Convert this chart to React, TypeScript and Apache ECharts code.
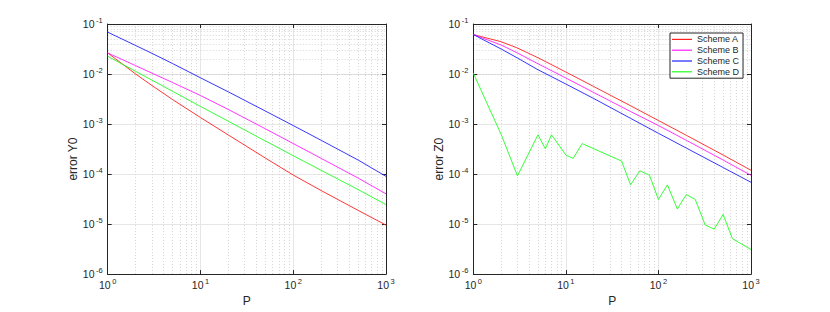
import React, { useEffect, useRef } from "react";
import * as echarts from "echarts";

const P = [1, 2, 3, 5, 10, 20, 50, 100, 200, 500, 1000];

const leftA = [0.0264, 0.01, 5.89e-3, 3.09e-3, 1.35e-3, 6.03e-4, 2.09e-4, 9.55e-5, 4.68e-5, 1.88e-5, 9.55e-6];
const leftB = [0.0264, 0.01469, 0.0104, 6.76e-3, 3.72e-3, 1.95e-3, 8.04e-4, 4.07e-4, 2.06e-4, 8.32e-5, 4.03e-5];
const leftC = [0.0686, 0.0372, 0.0259, 0.0162, 8.41e-3, 4.39e-3, 1.82e-3, 9.33e-4, 4.73e-4, 1.91e-4, 9.0e-5];
const leftD = [0.02265, 0.0113, 7.55e-3, 4.52e-3, 2.25e-3, 1.135e-3, 4.59e-4, 2.33e-4, 1.186e-4, 4.9e-5, 2.45e-5];

const rightA = [0.0615, 0.0442, 0.0331, 0.02113, 0.01096, 5.62e-3, 2.32e-3, 1.175e-3, 5.96e-4, 2.4e-4, 1.19e-4];
const rightB = [0.0615, 0.038, 0.0263, 0.01603, 8.32e-3, 4.27e-3, 1.78e-3, 9.33e-4, 4.73e-4, 1.905e-4, 9.44e-5];
const rightC = [0.0615, 0.0316, 0.0209, 0.01216, 6.31e-3, 3.24e-3, 1.3e-3, 6.53e-4, 3.31e-4, 1.35e-4, 6.84e-5];

const PD = [1, 2, 3, 5, 6, 7, 10, 12, 15, 40, 50, 63, 80, 100, 125, 160, 200, 250, 320, 400, 500, 630, 1000];
const rightD = [0.0104, 6.2e-4, 9.2e-5, 6.1e-4, 3.2e-4, 6.1e-4, 2.4e-4, 2.06e-4, 4.06e-4, 1.82e-4, 6.07e-5, 1.16e-4, 9.5e-5, 3.1e-5, 6.07e-5, 2.0e-5, 3.9e-5, 3.1e-5, 9.6e-6, 7.9e-6, 1.56e-5, 5.1e-6, 3.1e-6];

const names = ["Scheme A", "Scheme B", "Scheme C", "Scheme D"];
const colors = ["#ff2020", "#ff20ff", "#2020ff", "#20ff20"];

const xDecades = [1, 10, 100];
const yDecades = [1e-6, 1e-5, 1e-4, 1e-3, 1e-2];
const mult = [2, 3, 4, 5, 6, 7, 8, 9];

const FONT = "Liberation Sans, Arial, Helvetica, sans-serif";
const AX = "#262626";

const pow = (v: number) => {
  const e = Math.round(Math.log10(v));
  return `{b|10}{s|${e}}`;
};
const rich = {
  b: { fontSize: 10.5, fontFamily: FONT, color: AX, lineHeight: 15, verticalAlign: "middle" },
  s: { fontSize: 7.5, fontFamily: FONT, color: AX, lineHeight: 15, verticalAlign: "top", padding: [0, 0, 0, 1.5] },
};

export default function App() {
  const ref = useRef<HTMLDivElement>(null);
  useEffect(() => {
    const chart = echarts.init(ref.current!, undefined, { renderer: "svg" });
    const grids = [
      { left: 107.7, top: 24, width: 278.3, height: 254 },
      { left: 473.3, top: 24, width: 277.7, height: 254 },
    ];
    const xAxis: any[] = [];
    const yAxis: any[] = [];
    grids.forEach((g, i) => {
      xAxis.push({
        type: "log", logBase: 10, min: 1, max: 1000, gridIndex: i, position: "bottom",
        name: "P", nameLocation: "middle", nameGap: 18,
        nameTextStyle: { fontSize: 12, fontFamily: FONT, color: AX },
        axisLine: { show: true, lineStyle: { color: AX, width: 1 } },
        axisTick: { show: true, inside: true, length: 4, lineStyle: { color: AX } },
        axisLabel: { formatter: pow, rich, margin: 3, color: AX },
        splitLine: { show: true, lineStyle: { color: "#e6e6e6", width: 1 } },
      });
      xAxis.push({
        type: "log", logBase: 10, min: 1, max: 1000, gridIndex: i, position: "top",
        axisLine: { show: true, lineStyle: { color: AX, width: 1 } },
        axisTick: { show: true, inside: true, length: 4, lineStyle: { color: AX } },
        axisLabel: { show: false }, splitLine: { show: false },
      });
      yAxis.push({
        type: "log", logBase: 10, min: 1e-6, max: 0.1, gridIndex: i, position: "left",
        name: i === 0 ? "error Y0" : "error Z0", nameLocation: "middle", nameGap: 22, nameRotate: 90,
        nameTextStyle: { fontSize: 12, fontFamily: FONT, color: AX, padding: [0, 20, 0, 0] },
        axisLine: { show: true, lineStyle: { color: AX, width: 1 } },
        axisTick: { show: true, inside: true, length: 4, lineStyle: { color: AX } },
        axisLabel: { formatter: pow, rich, margin: 5, color: AX },
        splitLine: { show: true, lineStyle: { color: "#e6e6e6", width: 1 } },
      });
      yAxis.push({
        type: "log", logBase: 10, min: 1e-6, max: 0.1, gridIndex: i, position: "right",
        axisLine: { show: true, lineStyle: { color: AX, width: 1 } },
        axisTick: { show: true, inside: true, length: 4, lineStyle: { color: AX } },
        axisLabel: { show: false }, splitLine: { show: false },
      });
    });

    const minorData: any[] = [];
    xDecades.forEach((d) => mult.forEach((m) => minorData.push({ xAxis: d * m })));
    yDecades.forEach((d) => mult.forEach((m) => minorData.push({ yAxis: d * m })));

    const series: any[] = [];
    [0, 1].forEach((i) => {
      series.push({
        type: "line", xAxisIndex: i * 2, yAxisIndex: i * 2, data: [], silent: true, z: 0,
        markLine: {
          silent: true, symbol: ["none", "none"], label: { show: false }, z: 0,
          lineStyle: { type: [1, 2], color: "#d4d4d4", width: 1 },
          data: minorData, animation: false,
        },
      });
    });
    const mk = (name: string, color: string, xs: number[], ys: number[], gi: number) => ({
      type: "line", name, xAxisIndex: gi * 2, yAxisIndex: gi * 2,
      data: xs.map((x, k) => [x, ys[k]]),
      showSymbol: false, symbol: "none", z: 3,
      lineStyle: { color, width: 0.9 }, itemStyle: { color },
    });
    const lefts = [leftA, leftB, leftC, leftD];
    lefts.forEach((arr, k) => series.push(mk(names[k], colors[k], P, arr, 0)));
    [rightA, rightB, rightC].forEach((arr, k) => series.push(mk(names[k], colors[k], P, arr, 1)));
    series.push(mk(names[3], colors[3], PD, rightD, 1));

    chart.setOption({
      animation: false,
      backgroundColor: "#ffffff",
      grid: grids,
      xAxis, yAxis, series,
      legend: {
        data: names, orient: "vertical", left: 670, top: 33, z: 20,
        backgroundColor: "#ffffff", borderColor: AX, borderWidth: 1, borderRadius: 0,
        padding: [1, 4, 1, 2], itemGap: 0, itemWidth: 20, itemHeight: 1.2, icon: "rect",
        textStyle: { fontSize: 9, fontFamily: FONT, color: AX, lineHeight: 10.8 },
        selectedMode: false,
      },
    });
    return () => chart.dispose();
  }, []);
  return <div ref={ref} style={{ position: "absolute", left: 0, top: 0, width: 830, height: 312 }} />;
}
